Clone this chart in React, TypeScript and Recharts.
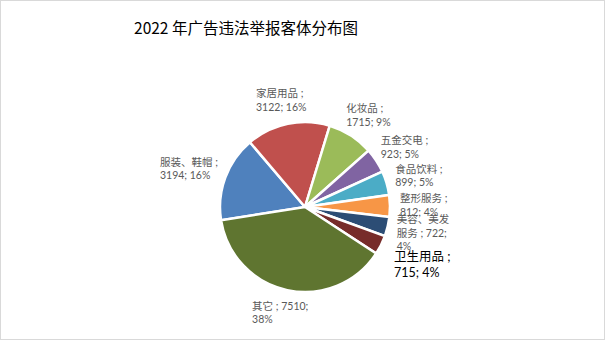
import React from 'react';
import { PieChart, Pie, Cell } from 'recharts';

const categories = ['服装、鞋帽', '家居用品', '化妆品', '五金交电', '食品饮料', '整形服务', '美容、美发服务', '卫生用品', '其它'];
const counts = [3194, 3122, 1715, 923, 899, 812, 722, 715, 7510];
const COLORS = ['#4F81BD', '#C0504D', '#9BBB59', '#8064A2', '#4BACC6', '#F79646', '#2C4D75', '#772C2A', '#5F7530'];
const emphasized = ['卫生用品'];

const data = categories.map((name, i) => ({ name, value: counts[i] }));

const isCJK = (ch: string) => /[\u3000-\u9fff\uff00-\uffef]/.test(ch);

function charWidth(ch: string, fs: number) {
  if (isCJK(ch)) return fs;
  if (/[0-9]/.test(ch)) return fs * 0.55;
  if (ch === '%') return fs * 0.9;
  return fs * 0.25;
}

const textWidth = (s: string, fs: number) => s.split('').reduce((a, c) => a + charWidth(c, fs), 0);

// rough Excel-like wrapping of "name ; value; pct%"
function wrapLabel(name: string, value: number, pct: number, fs: number) {
  const chars = name.split('');
  const tokens: string[] = chars.slice(0, -1);
  tokens.push(chars[chars.length - 1] + ' ;');
  tokens.push(' ' + value + ';');
  tokens.push(' ' + pct + '%');
  const limit = fs * 5.75;
  const lines: string[] = [];
  let cur = '';
  tokens.forEach((t) => {
    if (cur && textWidth(cur + t, fs) > limit) {
      lines.push(cur);
      cur = t.replace(/^ /, '');
    } else {
      cur += t;
    }
  });
  if (cur) lines.push(cur);
  return lines;
}

const RAD = Math.PI / 180;

function renderLabel(props: any) {
  const { cx, cy, midAngle, outerRadius, percent, index } = props;
  const d = data[index];
  const strong = emphasized.includes(d.name);
  const fs = strong ? 12.5 : 10.5;
  const lh = fs * 1.28;
  const lines = wrapLabel(d.name, d.value, Math.round(percent * 100), fs);
  const w = Math.max(...lines.map((l) => textWidth(l, fs)));
  const h = lines.length * lh;
  const c = Math.cos(midAngle * RAD);
  const s = Math.sin(midAngle * RAD);
  let bx: number;
  let by: number;
  if (strong) {
    // the bold label was pulled further out, centred on its ray
    const R = outerRadius + 46;
    bx = cx + R * c;
    by = cy - R * s;
  } else {
    const r = outerRadius + 10;
    bx = cx + r * c + (w / 2) * c;
    by = cy - r * s - (h / 2) * s;
  }
  const left = bx - w / 2;
  const top = by - h / 2;
  return (
    <text
      key={`lbl-${index}`}
      x={left}
      y={top}
      fontSize={fs}
      fill={strong ? '#000000' : '#595959'}
      fontFamily="Lato, 'Noto Sans CJK SC', sans-serif"
    >
      {lines.map((l, i) => (
        <tspan key={i} x={left} y={top + fs * 0.95 + i * lh}>
          {l}
        </tspan>
      ))}
    </text>
  );
}

export default function App() {
  return (
    <div style={{ position: 'absolute', left: 0, top: 0, width: 605, height: 340, background: '#fff' }}>
      <div
        style={{
          position: 'absolute',
          left: 0,
          top: 15,
          width: 492,
          textAlign: 'center',
          fontSize: 15.5,
          lineHeight: '24px',
          color: '#000',
          fontFamily: "'Noto Sans CJK SC', sans-serif",
        }}
      >
        2022 年广告违法举报客体分布图
      </div>
      <PieChart width={605} height={340}>
        <Pie
          data={data}
          dataKey="value"
          cx={300}
          cy={202}
          outerRadius={85}
          startAngle={-171}
          endAngle={-531}
          stroke="#ffffff"
          strokeWidth={2.5}
          label={renderLabel}
          labelLine={false}
          isAnimationActive={false}
        >
          {data.map((entry, index) => (
            <Cell key={`cell-${index}`} fill={COLORS[index % COLORS.length]} />
          ))}
        </Pie>
      </PieChart>
      <div
        style={{
          position: 'absolute',
          left: 0,
          top: 0,
          width: 605,
          height: 340,
          boxSizing: 'border-box',
          border: '1px solid #D9D9D9',
          pointerEvents: 'none',
        }}
      />
    </div>
  );
}
